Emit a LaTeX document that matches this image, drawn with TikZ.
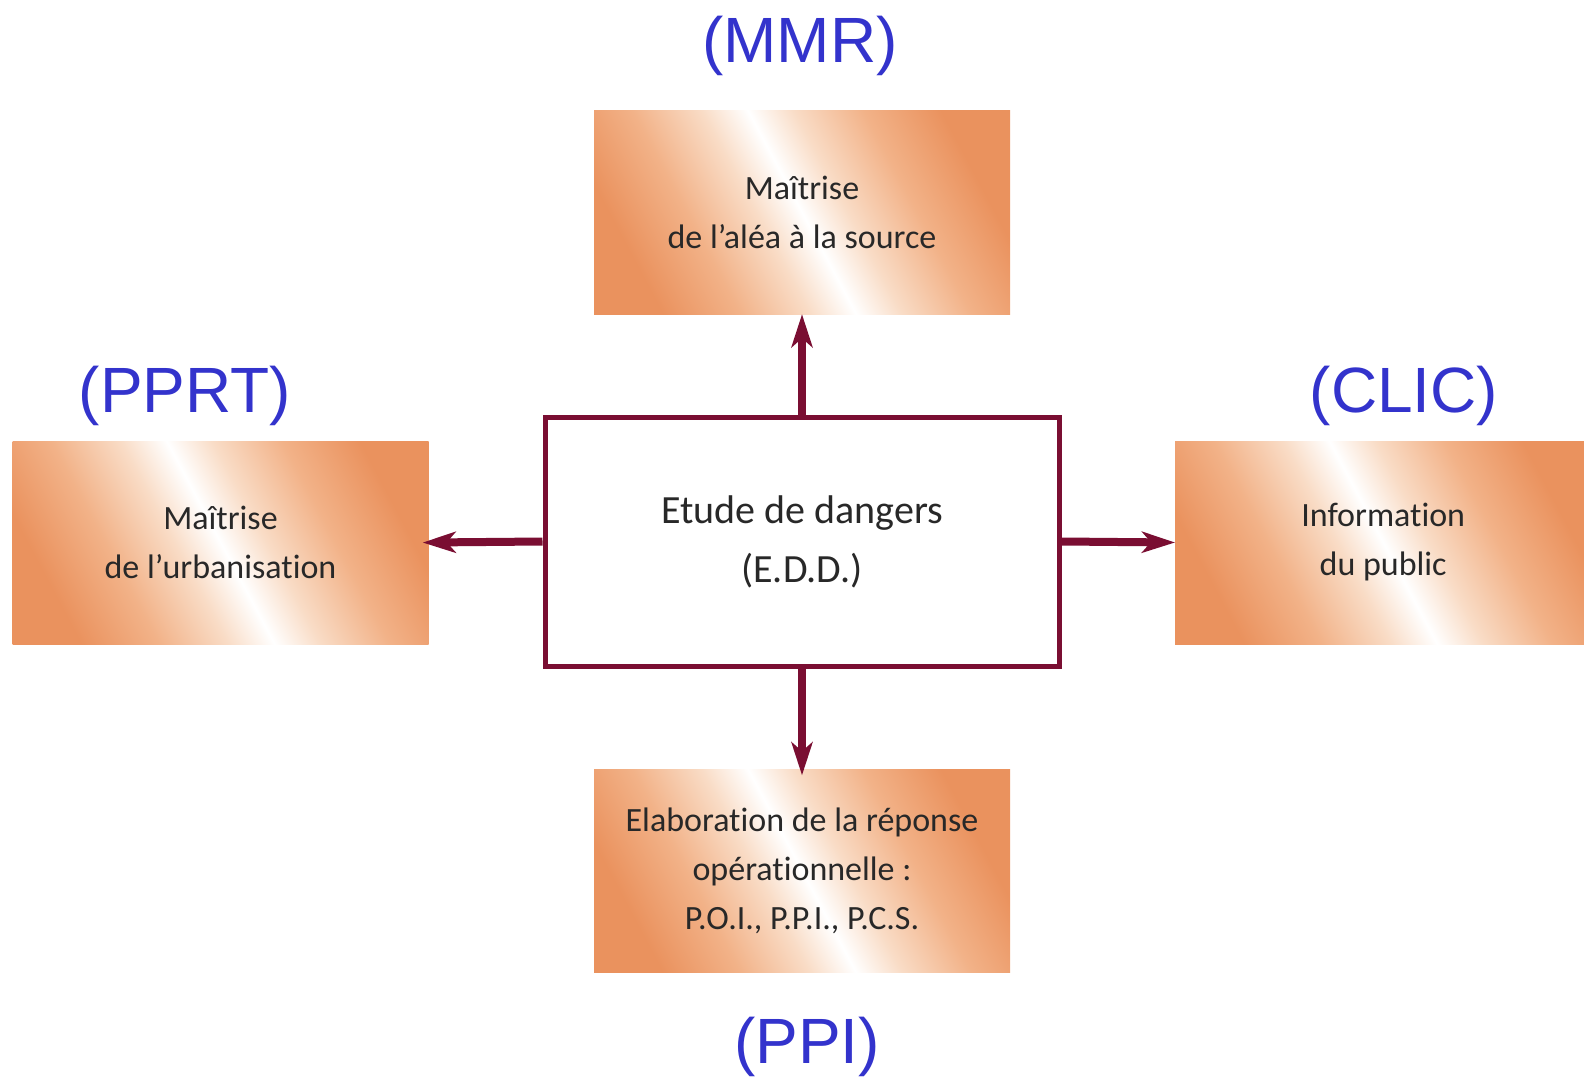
\documentclass[tikz,border=0pt]{standalone}
\usepackage{fontspec}
\setmainfont{Carlito}[Ligatures=NoCommon]
\newfontfamily\labelfont{Liberation Sans}
\usetikzlibrary{arrows.meta}

\definecolor{boxorange}{RGB}{234,146,94}
\definecolor{boxmid}{RGB}{242,178,136}
\definecolor{boxlight}{RGB}{249,220,198}
\definecolor{eddred}{RGB}{122,14,50}
\definecolor{labelblue}{RGB}{51,51,204}
\definecolor{boxtext}{RGB}{40,40,40}

\pgfdeclarehorizontalshading{boxshade}{100bp}{color(0bp)=(boxorange); color(25bp)=(boxorange); color(35bp)=(boxmid); color(44bp)=(boxlight); color(50bp)=(white); color(56bp)=(boxlight); color(65bp)=(boxmid); color(75bp)=(boxorange); color(100bp)=(boxorange)}

\tikzset{
    hazard/.style={shade, shading=boxshade, shading angle=28, minimum width=416pt, minimum height=203pt,
        inner sep=0pt, align=center, text=boxtext, font=\fontsize{34}{49}\selectfont},
    eddbox/.style={draw=eddred, line width=5pt, fill=white, minimum width=514pt, minimum height=249pt,
        inner sep=0pt, align=center, text=boxtext, font=\fontsize{40}{59}\selectfont},
    flow/.style={-{Stealth[length=33pt,width=21pt,inset=9pt]}, line width=8pt, draw=eddred},
    tag/.style={anchor=base, text=labelblue, font=\labelfont\fontsize{64}{77}\selectfont}
}

\begin{document}
\begin{tikzpicture}[x=1pt,y=-1pt]
\useasboundingbox (0,0) rectangle (1584,1078);

% boxes
\node[hazard] (source) at (802,212.5) {Maîtrise\\de l’aléa à la source};
\node[hazard] (urban) at (220.5,542.5) {Maîtrise\\de l’urbanisation};
\node[hazard, anchor=west] (info) at (1175,542.5) {Information\\du public};
\node[hazard] (response) at (802,871) {Elaboration de la réponse\\opérationnelle :\\P.O.I., P.P.I., P.C.S.};
\node[eddbox] (edd) at (802,541.5) {\raisebox{-5pt}{\parbox{514pt}{\centering Etude de dangers\\(E.D.D.)}}};

% arrows
\draw[flow] (edd.north) -- (source.south);
\draw[flow, shorten >=-6pt] (edd.south) -- (response.north);
\draw[flow, shorten >=-6pt] (edd.west) -- (urban.east);
\draw[flow] (edd.east) -- (info.west);

% labels
\node[tag] (mmr) at (800,63) {(MMR)};
\node[tag] (pprt) at (185,412) {(PPRT)};
\node[tag] (clic) at (1404,412) {(CLIC)};
\node[tag] (ppi) at (807,1063) {(PPI)};

\end{tikzpicture}
\end{document}
